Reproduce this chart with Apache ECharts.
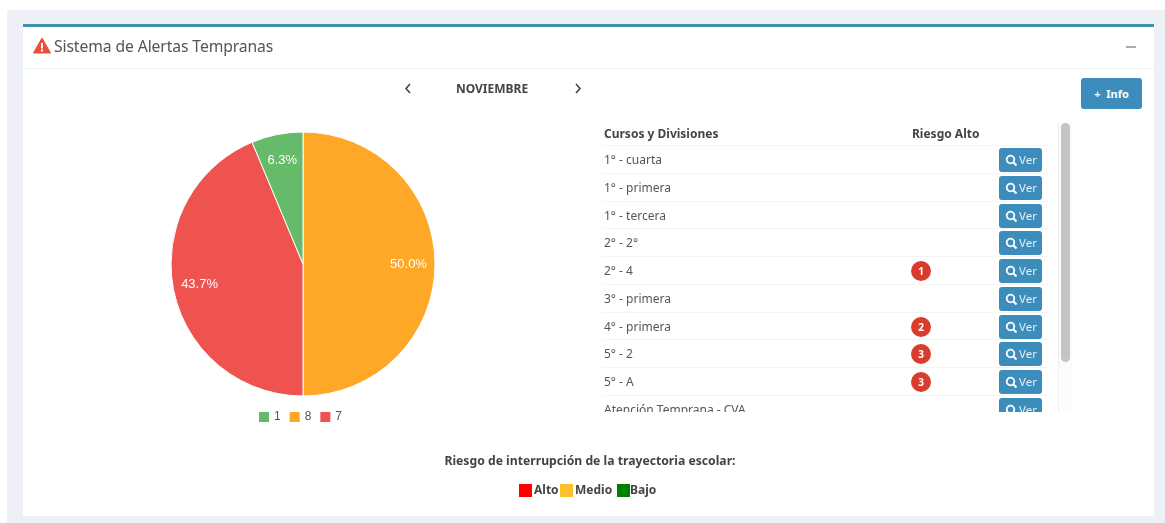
<!DOCTYPE html>
<html lang="es">
<head>
<meta charset="utf-8">
<title>Sistema de Alertas Tempranas</title>
<script src="https://cdn.jsdelivr.net/npm/echarts@6/dist/echarts.min.js"></script>
<style>
  * { box-sizing: border-box; }
  html, body { margin: 0; width: 1165px; height: 523px; overflow: hidden; background: #fff; font-family: "Noto Sans", sans-serif; color: #444; }
  .abs { position: absolute; }
  #wrap { position: absolute; left: 7px; top: 10px; width: 1158px; height: 513px; background: #edf0f5; }
  #card { position: absolute; left: 23px; top: 24px; width: 1131px; height: 492px; background: #fff; border-top: 3px solid #3f8fb0; }
  #divider { position: absolute; left: 23px; top: 68px; width: 1131px; height: 1px; background: #f3f4f6; }
  #chart { position: absolute; left: 0; top: 0; width: 1165px; height: 523px; }
  #title { left: 54px; top: 35px; font-size: 15.7px; line-height: 22px; color: #555; letter-spacing: -0.1px; }
  #month { left: 400px; width: 184px; top: 80px; text-align: center; font-size: 12px; line-height: 17px; font-weight: 700; color: #444; }
  .chev { top: 83px; width: 8px; height: 11px; }
  #info { left: 1081px; top: 78px; width: 61px; height: 31px; background: #3c8dbc; border-radius: 3px; color: #fff; font-size: 11px; font-weight: 700; line-height: 31px; text-align: center; }
  #collapse { left: 1126px; top: 46px; width: 10px; height: 2px; background: #aaa; }
  #tableBox { position: absolute; left: 602px; top: 122px; width: 470px; height: 290px; overflow: hidden; }
  .head { position: absolute; top: 3px; font-size: 12px; line-height: 17px; font-weight: 700; color: #444; white-space: nowrap; }
  .row { position: absolute; left: 0; width: 448px; height: 28px; border-top: 1px solid #f4f4f4; }
  .row .name { position: absolute; left: 2px; top: 5px; font-size: 12px; line-height: 18px; color: #555; white-space: nowrap; }
  .row .badge { position: absolute; left: 309px; top: 4px; width: 20px; height: 20px; border-radius: 50%; background: #d73c2c; color: #fff; font-size: 10px; font-weight: 700; line-height: 20px; text-align: center; }
  .row .ver { position: absolute; left: 397px; top: 2px; width: 43px; height: 24px; background: #3c8dbc; border-radius: 3px; color: #e4f0f7; font-size: 11.5px; line-height: 24px; padding-left: 20px; }
  .row .ver svg { position: absolute; left: 6px; top: 6px; }
  #track { position: absolute; left: 456px; top: 0; width: 14px; height: 290px; background: #fcfcfc; border-left: 1px solid #eee; }
  #thumb { position: absolute; left: 459px; top: 1px; width: 9px; height: 239px; background: #c4c4c4; border-radius: 5px; }
  #riskTitle { left: 300px; width: 580px; top: 452px; text-align: center; font-size: 12.2px; line-height: 18px; font-weight: 700; color: #444; }
  .key { top: 484px; width: 13px; height: 13px; }
  .keyText { top: 481px; font-size: 12px; line-height: 18px; font-weight: 700; color: #444; }
</style>
</head>
<body>
<div id="wrap"></div>
<div id="card"></div>
<div id="divider"></div>
<div id="chart"></div>

<svg class="abs" style="left:33px;top:37px" width="18" height="17" viewBox="0 0 18 17">
  <path d="M9 1 L17.5 16 L0.5 16 Z" fill="#e8503a" stroke="#e8503a" stroke-linejoin="round"/>
  <rect x="8" y="6" width="2" height="5.5" fill="#fff"/><rect x="8" y="12.5" width="2" height="2" fill="#fff"/>
</svg>
<div id="title" class="abs">Sistema de Alertas Tempranas</div>
<div id="collapse" class="abs"></div>

<svg class="abs chev" style="left:404px" viewBox="0 0 8 11"><path d="M6 1 L2 5.5 L6 10" fill="none" stroke="#444" stroke-width="1.6"/></svg>
<div id="month" class="abs">NOVIEMBRE</div>
<svg class="abs chev" style="left:574px" viewBox="0 0 8 11"><path d="M2 1 L6 5.5 L2 10" fill="none" stroke="#444" stroke-width="1.6"/></svg>
<div id="info" class="abs">+&nbsp;&nbsp;Info</div>

<div id="tableBox"></div>

<div id="riskTitle" class="abs">Riesgo de interrupción de la trayectoria escolar:</div>
<div class="abs key" style="left:519px;background:#f00"></div><div class="abs keyText" style="left:534px">Alto</div>
<div class="abs key" style="left:560px;background:#fdbf2d"></div><div class="abs keyText" style="left:575px">Medio</div>
<div class="abs key" style="left:617px;background:#008000"></div><div class="abs keyText" style="left:630px">Bajo</div>

<script>
// Alumnos por nivel de riesgo: la leyenda muestra la cantidad, el sector su porcentaje
const riskCounts = ['8', '7', '1'];
const riskPercents = [50.0, 43.7, 6.3];
const riskColors = ['#FFA726', '#EF5350', '#66BB6A'];
const legendOrder = ['1', '8', '7'];

// Cursos y cantidad de alumnos en riesgo alto
const courses = ['1° - cuarta', '1° - primera', '1° - tercera', '2° - 2°', '2° - 4', '3° - primera', '4° - primera', '5° - 2', '5° - A', 'Atención Temprana - CVA'];
const highRisk = [null, null, null, null, 1, null, 2, 3, 3, null];

const ROW_START = 23, ROW_PITCH = 27.75;
const box = document.getElementById('tableBox');
const glass = '<svg width="13" height="13" viewBox="0 0 13 13"><circle cx="5.5" cy="5.5" r="3.8" fill="none" stroke="#fff" stroke-width="1.8"/><path d="M8.2 8.2 L11.5 11.5" stroke="#fff" stroke-width="2"/></svg>';
box.innerHTML =
  '<div class="head" style="left:2px">Cursos y Divisiones</div>' +
  '<div class="head" style="left:310px">Riesgo Alto</div>' +
  courses.map((name, i) =>
    `<div class="row" style="top:${ROW_START + i * ROW_PITCH}px"><span class="name">${name}</span>` +
    (highRisk[i] ? `<span class="badge">${highRisk[i]}</span>` : '') +
    `<span class="ver">${glass}Ver</span></div>`
  ).join('') +
  '<div id="track"></div><div id="thumb"></div>';

const slices = riskCounts.map((name, i) => ({ name, value: riskPercents[i], itemStyle: { color: riskColors[i] } }));
const chart = echarts.init(document.getElementById('chart'), null, { renderer: 'canvas' });
chart.setOption({
  animation: false,
  legend: {
    data: legendOrder,
    left: 259, top: 411,
    padding: 0,
    itemWidth: 10, itemHeight: 10, itemGap: 9,
    icon: 'rect',
    itemStyle: { borderWidth: 0 },
    textStyle: { fontFamily: 'Liberation Sans', fontSize: 12, color: '#555' }
  },
  series: [
    {
      type: 'pie',
      center: [303, 264],
      radius: [0, 132],
      startAngle: 90,
      clockwise: true,
      silent: true,
      itemStyle: { borderColor: '#fff', borderWidth: 1 },
      label: { show: false },
      labelLine: { show: false },
      data: slices
    },
    {
      // Anillo transparente que sitúa los porcentajes cerca del borde
      type: 'pie',
      center: [303, 264],
      radius: [73, 132],
      startAngle: 90,
      clockwise: true,
      silent: true,
      itemStyle: { color: 'transparent', borderWidth: 0 },
      label: {
        show: true,
        position: 'inside',
        formatter: (p) => p.value.toFixed(1) + '%',
        color: '#fff',
        fontFamily: 'Liberation Sans',
        fontSize: 13
      },
      labelLine: { show: false },
      data: riskCounts.map((name, i) => ({ name, value: riskPercents[i] }))
    }
  ]
});
</script>
</body>
</html>
